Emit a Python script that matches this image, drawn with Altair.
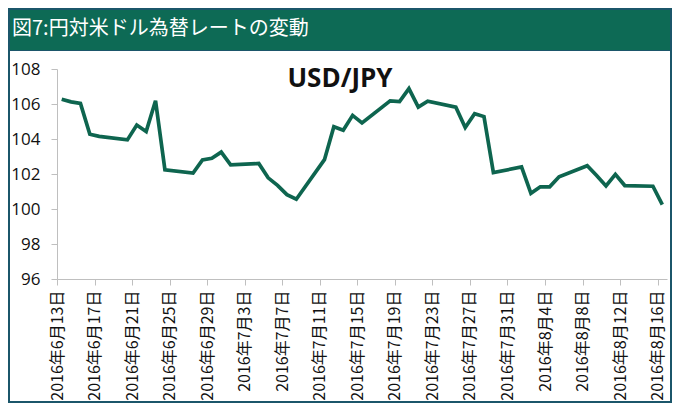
import json
import pandas as pd
import altair as alt

# ---- data ----
dates = [
    "2016-06-13", "2016-06-14", "2016-06-15", "2016-06-16", "2016-06-17",
    "2016-06-20", "2016-06-21", "2016-06-22", "2016-06-23", "2016-06-24",
    "2016-06-27", "2016-06-28", "2016-06-29", "2016-06-30", "2016-07-01",
    "2016-07-04", "2016-07-05", "2016-07-06", "2016-07-07", "2016-07-08",
    "2016-07-11", "2016-07-12", "2016-07-13", "2016-07-14", "2016-07-15",
    "2016-07-18", "2016-07-19", "2016-07-20", "2016-07-21", "2016-07-22",
    "2016-07-25", "2016-07-26", "2016-07-27", "2016-07-28", "2016-07-29",
    "2016-08-01", "2016-08-02", "2016-08-03", "2016-08-04", "2016-08-05",
    "2016-08-08", "2016-08-09", "2016-08-10", "2016-08-11", "2016-08-12",
    "2016-08-15", "2016-08-16",
]
rates = [
    106.27, 106.12, 106.03, 104.27, 104.15,
    103.95, 104.80, 104.43, 106.19, 102.24,
    102.05, 102.80, 102.90, 103.25, 102.52,
    102.60, 101.78, 101.35, 100.82, 100.56,
    102.82, 104.70, 104.50, 105.35, 104.92,
    106.18, 106.14, 106.88, 105.82, 106.16,
    105.82, 104.66, 105.45, 105.28, 102.08,
    102.40, 100.90, 101.27, 101.27, 101.84,
    102.47, 101.92, 101.32, 101.98, 101.34,
    101.30, 100.25,
]
tick_labels = [
    "2016年6月13日", "2016年6月17日", "2016年6月21日", "2016年6月25日",
    "2016年6月29日", "2016年7月3日", "2016年7月7日", "2016年7月11日",
    "2016年7月15日", "2016年7月19日", "2016年7月23日", "2016年7月27日",
    "2016年7月31日", "2016年8月4日", "2016年8月8日", "2016年8月12日",
    "2016年8月16日",
]
y_ticks = [96, 98, 100, 102, 104, 106, 108]
title_text = "図7:円対米ドル為替レートの変動"
series_label = "USD/JPY"

# ---- styling ----
BORDER = "#1b566a"
GREEN = "#0d6a55"
LINE = "#0e654f"
AXIS_GRAY = "#bfbfbf"
CJK = "Noto Sans CJK JP"

start = pd.Timestamp(dates[0])
df = pd.DataFrame({"date": pd.to_datetime(dates), "rate": rates})
df["day"] = (df["date"] - start).dt.days + 0.5

tick_days = [i * 4 for i in range(len(tick_labels))]
label_expr = json.dumps(tick_labels, ensure_ascii=False) + "[round(datum.value / 4)]"

W, H = 610, 210
x_scale = alt.Scale(domain=[0, 65], nice=False, zero=False)
y_scale = alt.Scale(domain=[96, 108], nice=False, zero=False)

one = pd.DataFrame({"t": [title_text], "s": [series_label]})

header = alt.Chart(one).mark_rect(color=GREEN).encode(
    x=alt.value(-47), x2=alt.value(613), y=alt.value(-59), y2=alt.value(-19)
)
panel = alt.Chart(one).mark_rect(color="white").encode(
    x=alt.value(-47), x2=alt.value(613), y=alt.value(-18), y2=alt.value(332)
)
title = alt.Chart(one).mark_text(
    align="left", baseline="middle", font=CJK, fontSize=20,
    fontWeight="normal", color="white"
).encode(x=alt.value(-45), y=alt.value(-40), text="t:N")

annot = alt.Chart(one).mark_text(
    font="Open Sans", fontSize=26, fontWeight="bold", color="#111",
    align="center", baseline="middle"
).encode(x=alt.value(283), y=alt.value(10), text="s:N")

line = alt.Chart(df).mark_line(color=LINE, strokeWidth=3.7).encode(
    x=alt.X(
        "day:Q", scale=x_scale,
        axis=alt.Axis(
            values=tick_days, labelExpr=label_expr, labelAngle=-90,
            labelFont=CJK, labelFontSize=16, labelColor="#111",
            labelPadding=5, tickSize=6, domainColor=AXIS_GRAY,
            tickColor=AXIS_GRAY, grid=False, title=None, zindex=1,
            labelOverlap=False,
        ),
    ),
    y=alt.Y(
        "rate:Q", scale=y_scale,
        axis=alt.Axis(
            values=y_ticks, labelFont="Open Sans", labelFontSize=17,
            labelColor="#111", labelPadding=11, tickSize=6,
            domainColor=AXIS_GRAY, tickColor=AXIS_GRAY, grid=False,
            title=None, zindex=1, labelOverlap=False,
        ),
    ),
)

chart = alt.layer(header, panel, title, annot, line).properties(
    width=W, height=H,
    padding={"left": 49, "top": 61, "right": 5, "bottom": 124},
    autosize=alt.AutoSizeParams(type="none"),
).configure(background=BORDER).configure_view(stroke=None)

chart.save("out.html", embed_options={"renderer": "svg", "actions": False})
